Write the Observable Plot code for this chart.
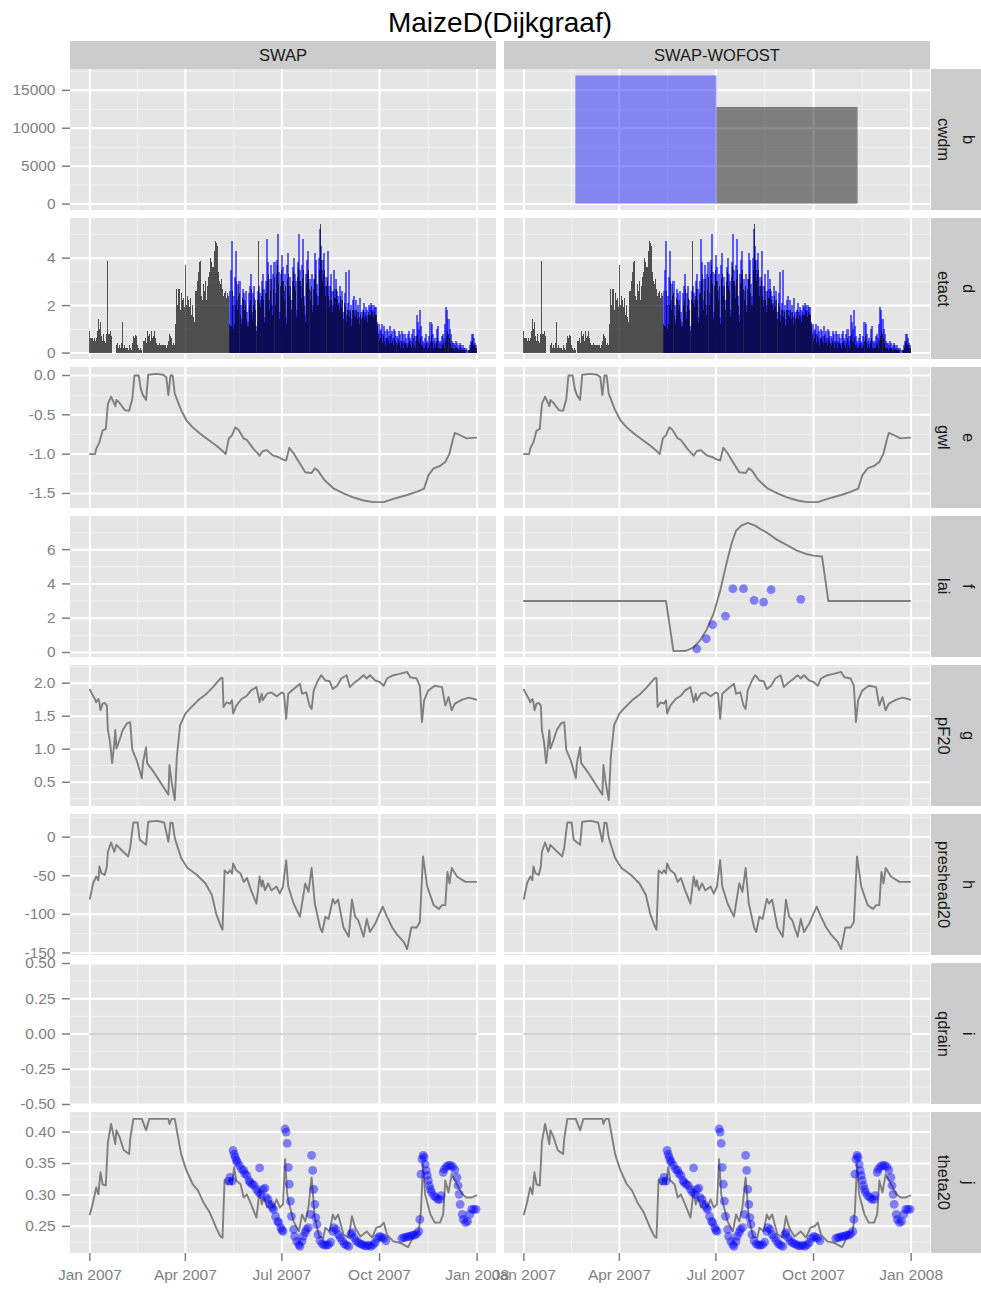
<!DOCTYPE html>
<html><head><meta charset="utf-8">
<script src="https://cdn.jsdelivr.net/npm/d3@7"></script>
<script src="https://cdn.jsdelivr.net/npm/@observablehq/plot@0.6"></script>
<style>
body{margin:0;background:#fff;font-family:"Liberation Sans",Arial,Helvetica,sans-serif;}
#chart{position:relative;width:981px;height:1289px;overflow:hidden;background:#fff;}
.title{position:absolute;left:70px;width:860px;top:9px;line-height:28px;text-align:center;font-size:28px;color:#000;}
.strip{position:absolute;background:#CCCCCC;color:#1a1a1a;font-size:16.5px;display:flex;align-items:center;justify-content:center;}
.vtext{writing-mode:vertical-rl;}
.row{position:absolute;left:0;}
</style></head><body><div id="chart"></div>
<script>
// ---------------- data ----------------
const chartTitle = "MaizeD(Dijkgraaf)";
const models = ["SWAP", "SWAP-WOFOST"];
const rowVars = ["cwdm", "etact", "gwl", "lai", "pF20", "preshead20", "qdrain", "theta20"];
const rowLetters = ["b", "d", "e", "f", "g", "h", "i", "j"];
const xTickDates = ["2007-01-01", "2007-04-01", "2007-07-01", "2007-10-01", "2008-01-01"];

// y tick labels per row
const cwdmTicks = [0, 5000, 10000, 15000];
const etactTicks = [0, 2, 4];
const gwlTicks = [-1.5, -1.0, -0.5, 0.0];
const laiTicks = [0, 2, 4, 6];
const pfTicks = [0.5, 1.0, 1.5, 2.0];
const phTicks = [-150, -100, -50, 0];
const qdrainTicks = [-0.5, -0.25, 0, 0.25, 0.5];
const thetaTicks = [0.25, 0.30, 0.35, 0.40];

// cwdm (SWAP-WOFOST only): bars with start/end dates
const cwdmStart = ["2007-02-19", "2007-07-02"];
const cwdmEnd = ["2007-07-02", "2007-11-12"];
const cwdmVal = [16900, 12740];
const cwdmSource = ["obs", "sim"];

// etact simulated, daily from day 0 (1 Jan 2007)
const etactSim = [
0.9,0.6,0.6,0.5,0.6,0.5,0.6,0.9,1.4,1.0,
1.3,0.7,0.5,0.8,0.5,0.4,0.8,3.85,0.8,0.9,
0.7,0,0,0,0,0.3,0.4,0.2,0.3,0.2,
0.4,1.3,0.2,0.3,0.2,0.2,0.1,0.3,0.2,0.1,
0.4,0.7,0.6,0.75,0.7,0.3,0.2,0.1,0.2,0.1,
0,0.5,0.6,0.4,0.9,0.7,0.8,0.5,0.9,0.6,
0.7,0.9,0.6,0.4,0.3,0.3,0.4,0.3,0.3,0.3,
0.3,0.3,0.2,0.3,0.5,0.8,0.7,0.6,0.3,0.4,
0.3,1.2,2.7,2.0,2.7,1.8,2.5,2.2,2.3,1.9,
3.7,2.0,2.4,2.2,1.9,2.3,1.6,2.0,1.5,1.3,
2.6,3.0,3.4,3.8,3.85,2.4,2.2,2.9,2.6,3.0,
2.2,2.8,3.2,3.4,4.0,3.8,3.6,4.3,4.7,4.6,
4.5,3.4,3.0,2.9,3.1,2.7,2.4,2.5,2.6,2.3,
2.5,2.4,1.2,1.1,2.6,1.0,1.2,2.0,3.0,1.8,
2.4,2.5,1.6,1.2,2.3,2.2,1.8,2.0,1.4,1.1,
2.0,2.2,2.7,1.4,2.0,2.3,1.8,0.9,2.2,4.7,
2.1,1.9,2.4,2.7,2.2,1.3,2.5,3.0,3.3,1.8,
2.6,3.1,1.6,2.7,3.2,2.0,3.3,3.7,2.9,1.4,
2.8,3.5,3.0,2.2,2.8,1.2,3.1,3.3,2.4,2.8,
1.8,3.0,3.4,2.8,2.6,1.5,3.2,3.6,3.0,2.3,
3.1,3.5,2.0,1.3,2.9,3.3,3.5,2.7,2.2,2.8,
1.7,2.7,3.1,3.3,2.5,2.0,3.5,5.4,3.9,3.0,
3.3,3.5,2.4,2.8,3.0,2.4,1.9,2.8,2.2,1.7,
2.6,2.3,2.7,2.2,2.0,1.8,2.4,1.9,2.2,1.4,
2.1,1.9,1.3,1.8,1.8,1.5,1.7,1.1,1.8,1.6,
1.5,1.8,1.4,1.7,1.2,1.6,1.4,1.5,1.8,1.4,
1.6,1.5,1.3,1.7,1.6,1.8,1.7,1.5,1.7,1.6,
1.6,1.1,0.8,0.5,0.6,0.8,0.4,0.7,0.5,0.3,
0.6,0.5,0.4,0.7,0.4,0.5,0.3,0.6,0.5,0.4,
0.3,0.5,0.4,0.2,0.5,0.4,0.2,0.4,0.3,0.2,
0.4,0.5,0.3,0.2,0.4,0.6,0.3,0.2,0.7,0.8,
0.5,0.4,0.6,0.3,0.2,0.2,0.3,0.4,0.2,0.2,
0.3,0.5,0.7,0.4,0.2,0.3,0.2,0.5,0.6,0.2,
0.2,0.2,0.3,0.4,0.2,0.5,0.7,0.9,0.8,0.6,
0.4,0.2,0.2,0.2,0.1,0.2,0.2,0.1,0.1,0.2,
0.1,0.1,0.1,0.1,0.1,0.0,0.0,0.1,0.1,0.2,
0.4,0.5,0.3,0.2,0.2];
// etact measured, daily from day 132
const etactObsStart = 132;
const etactObs = [
2.6,3.5,4.7,2.0,2.4,3.2,4.3,2.2,
2.9,3.0,2.0,1.4,2.7,2.5,2.2,2.6,1.7,1.3,
2.5,2.8,3.3,1.7,2.5,2.8,2.2,1.1,2.6,2.8,
2.5,2.2,3.0,3.3,2.7,1.5,3.0,4.8,3.8,2.2,
3.1,3.7,2.0,3.3,3.8,2.5,3.9,5.0,3.4,1.7,
3.3,4.1,3.6,2.6,3.3,1.5,3.7,4.2,2.8,3.2,
2.2,3.6,4.0,3.3,3.0,1.8,3.8,5.0,3.5,2.8,
3.7,4.8,2.4,1.6,3.3,3.9,4.3,3.1,2.6,3.3,
2.0,3.1,4.2,3.9,2.9,2.4,4.0,5.2,4.5,3.5,
3.9,4.2,2.8,3.2,4.3,2.8,2.2,3.3,2.6,2.0,
3.5,2.7,3.1,2.6,2.4,2.1,2.8,2.2,2.6,1.7,
2.5,3.4,1.6,2.1,3.5,1.8,2.0,1.4,2.2,2.4,
1.8,2.2,1.7,2.0,1.5,2.3,1.7,1.8,2.1,1.7,
1.9,1.8,1.6,2.0,1.9,2.1,2.0,1.8,2.0,1.9,
1.9,1.3,1.2,0.9,1.0,1.2,0.8,1.1,0.9,0.6,
1.0,0.9,0.7,1.1,0.8,0.9,0.6,1.0,0.9,0.7,
0.6,0.9,0.8,0.5,0.9,0.8,0.5,0.8,0.6,0.4,
0.8,0.9,0.6,0.5,0.8,1.0,0.7,0.5,1.6,1.3,
1.0,1.8,1.1,0.7,0.5,0.4,0.6,0.8,0.5,0.4,
0.7,1.3,1.2,0.8,0.5,0.6,0.4,1.0,1.1,0.5,
0.4,0.5,0.7,0.8,0.6,1.2,1.9,1.8,1.4,1.0,
0.8,0.5,0.4,0.4,0.3,0.5,0.4,0.2,0.3,0.4,
0.3,0.2,0.3,0.2,0.2,0.1,0.0,0.1,0.3,0.5,
0.8,0.8,0.6,0.4,0.3];

// gwl (day of year offset, value)
const gwlDay = [0,5,6,9,12,15,17,20,22,24,25,28,33,37,40,42,46,48,50,53,55,63,69,72,74,76,78,80,86,91,97,104,110,119,126,128,131,134,137,140,145,148,154,160,163,167,170,173,178,182,185,188,192,197,203,209,212,215,221,230,239,248,258,267,277,286,299,308,315,319,324,330,335,339,342,344,349,355,364];
const gwlVal = [-1.0,-1.0,-0.93,-0.85,-0.70,-0.68,-0.36,-0.27,-0.33,-0.39,-0.31,-0.35,-0.44,-0.45,-0.30,0.0,0.0,-0.17,-0.25,-0.31,0.01,0.02,0.01,-0.02,-0.25,0.0,0.0,-0.23,-0.44,-0.57,-0.66,-0.74,-0.80,-0.89,-0.97,-1.0,-0.80,-0.76,-0.66,-0.69,-0.80,-0.82,-0.93,-1.02,-0.96,-0.95,-0.99,-1.02,-1.04,-1.07,-1.08,-0.92,-0.99,-1.10,-1.23,-1.24,-1.18,-1.21,-1.33,-1.44,-1.50,-1.55,-1.59,-1.61,-1.61,-1.57,-1.52,-1.48,-1.44,-1.27,-1.18,-1.15,-1.10,-0.99,-0.82,-0.73,-0.76,-0.80,-0.79];

// lai (SWAP-WOFOST only)
const laiDay = [0,134,141,153,160,166,172,179,185,191,196,200,205,211,218,223,229,238,248,257,267,273,281,287,364];
const laiVal = [3.0,3.0,0.08,0.1,0.3,0.7,1.3,2.3,3.6,5.2,6.4,7.1,7.4,7.56,7.4,7.2,7.0,6.6,6.26,5.96,5.73,5.65,5.6,3.0,3.0];
const laiObsDay = [163,172,178,190,197,207,217,226,233,261];
const laiObsVal = [0.21,0.8,1.62,2.12,3.72,3.72,3.04,2.94,3.66,3.10];

// pF20
const pfDay = [0,3,5,6,8,9,10,12,14,16,17,19,21,23,24,25,28,31,35,38,40,44,49,50,53,54,60,66,74,75,77,80,82,85,90,94,102,110,116,123,125,126,129,132,134,135,138,143,148,152,157,160,162,163,167,171,176,181,183,185,187,192,198,200,204,207,209,211,215,218,222,226,229,233,237,242,245,248,253,258,261,264,269,273,277,280,286,292,299,302,308,311,313,315,319,325,332,333,335,338,341,344,351,357,364];
const pfVal = [1.90,1.81,1.75,1.71,1.76,1.71,1.59,1.69,1.70,1.66,1.29,1.11,0.79,1.09,1.29,1.01,1.14,1.29,1.39,1.41,0.99,0.84,0.56,0.79,1.03,0.79,0.66,0.51,0.31,0.76,0.51,0.23,0.89,1.36,1.54,1.61,1.74,1.84,1.94,2.07,2.08,1.64,1.71,1.69,1.74,1.54,1.66,1.76,1.81,1.89,1.94,1.71,1.84,1.74,1.84,1.86,1.80,1.86,1.84,1.46,1.84,1.91,1.99,1.84,1.86,1.66,1.61,1.89,2.04,2.12,2.04,2.03,1.91,1.96,2.07,2.12,1.94,1.99,2.05,2.12,2.07,2.12,2.04,2.02,1.96,2.07,2.12,2.14,2.17,2.09,2.07,1.96,1.41,1.74,1.89,1.96,1.94,1.84,1.66,1.79,1.59,1.69,1.75,1.78,1.75];

// preshead20
const phDay = [0,3,6,8,9,11,14,16,17,20,23,25,30,36,38,41,45,47,53,55,63,70,74,76,78,80,86,92,101,109,115,119,123,125,127,130,132,134,135,138,142,145,148,152,157,160,162,163,165,168,171,176,179,182,185,187,192,198,203,206,209,212,217,219,222,225,229,231,234,239,244,247,250,253,258,261,264,269,273,276,280,285,290,296,299,303,308,311,314,318,324,329,332,335,337,339,341,346,354,364];
const phVal = [-80,-60,-51,-56,-38,-47,-49,-38,-19,-7,-19,-10,-17,-25,-14,19,19,-3.5,-10,20,21,19,-6,19,18,-1,-27,-40,-49,-60,-75,-99,-114,-120,-43,-47,-43,-47,-34,-43,-47,-58,-53,-69,-86,-51,-64,-56,-69,-60,-69,-64,-73,-64,-30,-64,-86,-103,-60,-71,-40,-86,-117,-123,-103,-106,-80,-86,-81,-117,-129,-81,-103,-108,-129,-106,-123,-112,-99,-90,-103,-117,-127,-136,-145,-117,-117,-110,-25,-64,-88,-93,-88,-88,-45,-60,-40,-51,-58,-58];

// qdrain
const qdrainDay = [0, 364];
const qdrainVal = [0, 0];

// theta20 simulated
const thDay = [0,3,6,8,10,12,15,17,20,24,25,28,32,37,38,41,49,53,56,74,75,77,80,86,91,97,102,107,113,119,123,125,127,130,132,134,136,138,142,145,148,152,157,160,162,164,167,170,173,176,179,182,184,186,188,192,197,200,203,206,209,212,216,220,222,226,229,231,234,239,244,247,250,255,261,266,270,274,277,280,286,292,300,305,310,312,314,316,321,325,330,333,335,338,341,346,351,355,360,364];
const thVal = [0.269,0.288,0.312,0.301,0.336,0.317,0.315,0.384,0.413,0.381,0.403,0.392,0.371,0.365,0.389,0.421,0.421,0.403,0.421,0.421,0.413,0.421,0.421,0.365,0.339,0.317,0.307,0.288,0.272,0.248,0.234,0.232,0.325,0.317,0.325,0.317,0.344,0.323,0.317,0.296,0.301,0.285,0.264,0.307,0.285,0.296,0.280,0.290,0.280,0.293,0.280,0.285,0.357,0.301,0.285,0.258,0.242,0.269,0.258,0.280,0.328,0.264,0.234,0.232,0.248,0.242,0.269,0.261,0.269,0.237,0.232,0.266,0.248,0.234,0.242,0.232,0.248,0.250,0.256,0.237,0.226,0.224,0.217,0.234,0.242,0.274,0.349,0.301,0.269,0.256,0.256,0.269,0.323,0.304,0.333,0.317,0.301,0.296,0.296,0.299];
// theta20 observed
const toDay = [131,132,134,135,136,137,138,139,141,143,145,146,148,150,151,153,155,157,159,160,161,163,165,166,168,170,172,173,175,177,178,180,181,182,184,185,186,187,188,189,190,192,193,195,197,198,200,201,203,204,206,208,209,210,211,212,213,214,215,217,219,221,223,225,227,229,230,232,234,236,238,240,242,244,246,247,249,251,253,255,257,259,261,263,265,267,269,271,273,275,277,279,294,296,298,300,302,304,306,308,310,311,312,313,314,315,316,317,318,319,320,321,322,324,326,328,330,331,333,334,336,338,340,342,344,346,347,348,349,351,352,354,356,358,360,362,364];
const toVal = [0.322,0.328,0.322,0.371,0.365,0.360,0.355,0.352,0.347,0.341,0.339,0.334,0.331,0.323,0.320,0.317,0.315,0.309,0.304,0.343,0.301,0.309,0.311,0.296,0.293,0.285,0.280,0.277,0.266,0.258,0.256,0.248,0.244,0.242,0.405,0.400,0.382,0.344,0.317,0.290,0.266,0.245,0.234,0.226,0.221,0.218,0.226,0.234,0.240,0.245,0.248,0.269,0.363,0.339,0.309,0.285,0.264,0.253,0.237,0.227,0.222,0.220,0.220,0.221,0.225,0.242,0.248,0.245,0.237,0.232,0.227,0.222,0.220,0.218,0.237,0.240,0.232,0.227,0.224,0.222,0.221,0.219,0.219,0.220,0.218,0.221,0.224,0.231,0.234,0.233,0.231,0.227,0.231,0.232,0.233,0.234,0.234,0.236,0.236,0.238,0.242,0.261,0.333,0.357,0.363,0.360,0.349,0.339,0.331,0.323,0.315,0.309,0.304,0.299,0.296,0.293,0.293,0.299,0.336,0.341,0.345,0.347,0.347,0.345,0.340,0.328,0.315,0.301,0.285,0.269,0.261,0.256,0.258,0.269,0.277,0.277,0.277];

// ---------------- helpers ----------------
const FONT = '"Liberation Sans", Arial, Helvetica, sans-serif';
const T0 = Date.UTC(2007, 0, 1);
const toDate = d => new Date(T0 + d * 864e5);
const xMajor = xTickDates.map(s => new Date(s + "T00:00:00Z"));
const xMinor = d3.pairs(xMajor).map(([a, b]) => new Date((+a + +b) / 2));
const xDomain = [toDate(-0.05 * 365), toDate(365 * 1.05)];
const expand = (lo, hi) => [lo - 0.05 * (hi - lo), hi + 0.05 * (hi - lo)];

function zipRows(days, vals, model) {
  const n = Math.min(days.length, vals.length);
  const out = [];
  for (let i = 0; i < n; i++) out.push({date: toDate(days[i]), value: vals[i], model});
  return out;
}
const both = (days, vals) => models.flatMap(m => zipRows(days, vals, m));
const dailyDays = (vals, start) => vals.map((_, i) => start + i);

function minorOf(major, dom) {
  const s = major[1] - major[0], out = [];
  for (let k = -1; k < major.length; k++) {
    const v = major[0] + s * (k + 0.5);
    if (v >= dom[0] - 1e-9 && v <= dom[1] + 1e-9) out.push(v);
  }
  return out;
}

const LINE = {stroke: "#7f7f7f", strokeWidth: 1.9, fx: "model"};
const DOT = {r: 4.4, fill: "blue", fillOpacity: 0.45, stroke: "none", fx: "model"};

// ---------------- rows ----------------
const cwdmRows = cwdmVal.map((v, i) => ({start: new Date(cwdmStart[i] + "T00:00:00Z"), end: new Date(cwdmEnd[i] + "T00:00:00Z"), value: v, source: cwdmSource[i], model: "SWAP-WOFOST"}));
const etSim = both(dailyDays(etactSim, 0), etactSim);
const etObs = both(dailyDays(etactObs, etactObsStart), etactObs);

const rows = [
  {ticks: cwdmTicks, fmt: d => String(d), domain: expand(0, d3.max(cwdmVal)), marks: [
    Plot.rectY(cwdmRows.filter(d => d.source === "obs"), {x1: "start", x2: "end", y: "value", fx: "model", fill: "blue", fillOpacity: 0.42, inset: 0}),
    Plot.rectY(cwdmRows.filter(d => d.source === "sim"), {x1: "start", x2: "end", y: "value", fx: "model", fill: "black", fillOpacity: 0.45, inset: 0})
  ]},
  {ticks: etactTicks, fmt: d => String(d), domain: expand(0, d3.max([...etactSim, ...etactObs])), marks: [
    Plot.rectY(etObs, {x: "date", y: "value", interval: "day", fx: "model", fill: "blue", fillOpacity: 0.6, insetLeft: -0.5, insetRight: -0.5, shapeRendering: "crispEdges"}),
    Plot.rectY(etSim, {x: "date", y: "value", interval: "day", fx: "model", fill: "black", fillOpacity: 0.66, insetLeft: 0, insetRight: 0, shapeRendering: "crispEdges"})
  ]},
  {ticks: gwlTicks, fmt: d => d.toFixed(1), domain: expand(d3.min(gwlVal), d3.max(gwlVal)), marks: [
    Plot.line(both(gwlDay, gwlVal), {x: "date", y: "value", ...LINE})
  ]},
  {ticks: laiTicks, fmt: d => String(d), domain: expand(d3.min([...laiVal, ...laiObsVal]), d3.max([...laiVal, ...laiObsVal])), marks: [
    Plot.line(zipRows(laiDay, laiVal, "SWAP-WOFOST"), {x: "date", y: "value", ...LINE}),
    Plot.dot(zipRows(laiObsDay, laiObsVal, "SWAP-WOFOST"), {x: "date", y: "value", ...DOT})
  ]},
  {ticks: pfTicks, fmt: d => d.toFixed(1), domain: expand(d3.min(pfVal), d3.max(pfVal)), marks: [
    Plot.line(both(pfDay, pfVal), {x: "date", y: "value", ...LINE})
  ]},
  {ticks: phTicks, fmt: d => String(d), domain: expand(d3.min(phVal), d3.max(phVal)), marks: [
    Plot.line(both(phDay, phVal), {x: "date", y: "value", ...LINE})
  ]},
  {ticks: qdrainTicks, fmt: d => d.toFixed(2), domain: [-0.5, 0.5], marks: [
    Plot.line(both(qdrainDay, qdrainVal), {x: "date", y: "value", fx: "model", stroke: "#d2d2d2", strokeWidth: 1.8})
  ]},
  {ticks: thetaTicks, fmt: d => d.toFixed(2), domain: expand(d3.min([...thVal, ...toVal]), d3.max([...thVal, ...toVal])), marks: [
    Plot.line(both(thDay, thVal), {x: "date", y: "value", ...LINE}),
    Plot.dot(both(toDay, toVal), {x: "date", y: "value", ...DOT})
  ]}
];

// ---------------- layout ----------------
const chart = document.getElementById("chart");
const ROW0 = 69, STEP = 149, PH = 141;
const LEFT = 70, RIGHT = 930, GAP = 8;
const bandW = (RIGHT - LEFT - GAP) / 2;

const title = document.createElement("div");
title.className = "title"; title.textContent = chartTitle;
chart.appendChild(title);

models.forEach((m, i) => {
  const s = document.createElement("div");
  s.className = "strip";
  s.style.left = (LEFT + i * (bandW + GAP)) + "px";
  s.style.top = "41px"; s.style.width = bandW + "px"; s.style.height = "28px";
  s.textContent = m;
  chart.appendChild(s);
});

rows.forEach((cfg, i) => {
  const last = i === rows.length - 1;
  const mb = last ? 36 : 0;
  const minor = minorOf(cfg.ticks, cfg.domain);
  const marks = [
    // panel background, one per facet (keeps empty panels visible)
    Plot.rect(models, {fx: d => d, fill: "#E5E5E5"}),
    Plot.gridX({ticks: xMinor, stroke: "#F2F2F2", strokeOpacity: 1, strokeWidth: 1}),
    Plot.gridY({ticks: minor, stroke: "#F2F2F2", strokeOpacity: 1, strokeWidth: 1}),
    Plot.gridX({ticks: xMajor, stroke: "#FFFFFF", strokeOpacity: 1, strokeWidth: 2}),
    Plot.gridY({ticks: cfg.ticks, stroke: "#FFFFFF", strokeOpacity: 1, strokeWidth: 2}),
    ...cfg.marks,
    Plot.axisY({ticks: cfg.ticks, tickFormat: cfg.fmt, tickSize: 8, tickPadding: 7, label: null, color: "#7f7f7f", strokeWidth: 1.5, facetAnchor: "left"})
  ];
  if (last) marks.push(Plot.axisX({ticks: xMajor, tickFormat: d3.utcFormat("%b %Y"), tickSize: 8, tickPadding: 7, label: null, color: "#7f7f7f", strokeWidth: 1.5}));
  const svg = Plot.plot({
    width: 981, height: PH + mb,
    marginLeft: LEFT, marginRight: 981 - RIGHT, marginTop: 0, marginBottom: mb,
    style: {background: "transparent", fontFamily: FONT, fontSize: "15.5px", overflow: "visible"},
    x: {type: "utc", domain: xDomain, axis: last ? undefined : null},
    y: {domain: cfg.domain},
    fx: {domain: models, paddingInner: GAP / (bandW + GAP), paddingOuter: 0, round: false, axis: null, label: null},
    marks
  });
  const wrap = document.createElement("div");
  wrap.className = "row";
  wrap.style.top = (ROW0 + i * STEP) + "px";
  wrap.appendChild(svg);
  chart.appendChild(wrap);

  [rowVars[i], rowLetters[i]].forEach((txt, k) => {
    const s = document.createElement("div");
    s.className = "strip";
    s.style.left = (931 + k * 25) + "px";
    s.style.top = (ROW0 + i * STEP) + "px";
    s.style.width = "25px"; s.style.height = PH + "px";
    const t = document.createElement("span");
    t.className = "vtext"; t.textContent = txt;
    s.appendChild(t);
    chart.appendChild(s);
  });
});
</script></body></html>
